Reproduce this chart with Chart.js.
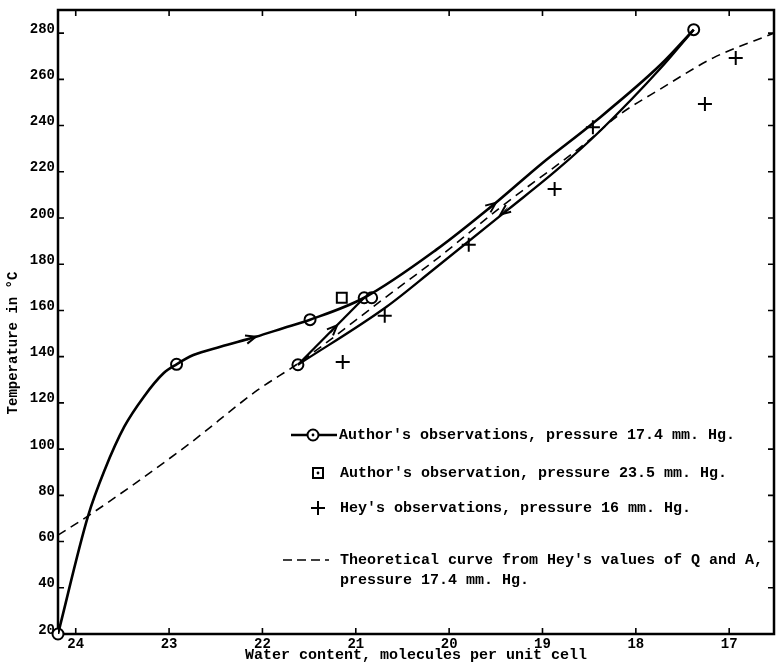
<!DOCTYPE html>
<html><head><meta charset="utf-8">
<script src="https://cdn.jsdelivr.net/npm/chart.js@4/dist/chart.umd.min.js"></script>
<style>html,body{margin:0;padding:0;background:#fff}</style>
</head><body>
<canvas id="c" width="783" height="664"></canvas>
<script>
// ---- axis ticks ----
const xTicks = [24, 23, 22, 21, 20, 19, 18, 17];
const yTicks = [20, 40, 60, 80, 100, 120, 140, 160, 180, 200, 220, 240, 260, 280];
const xMin = 16.52, xMax = 24.19, yMin = 20, yMax = 290;

// ---- Author's observations, pressure 17.4 mm (circles) ----
const authorX = [24.19, 22.92, 21.49, 20.91, 20.83, 17.38, 21.62];
const authorY = [20, 136.7, 156, 165.5, 165.5, 281.5, 136.5];

// heating path (curve drawn through author's points)
const heatX = [24.19, 23.87, 23.69, 23.48, 23.27, 23.06, 22.92, 22.74, 22.45, 22.07, 21.78, 21.49, 20.91, 20.14, 19.5, 19.01, 18.46, 17.73, 17.38];
const heatY = [20, 70.8, 91, 109.7, 122.7, 132.8, 136.7, 140.7, 144.3, 148.6, 152.3, 156, 165.5, 186.2, 206.6, 223.5, 241, 266.5, 281.5];
// cooling path (lower curve), listed from the low end upward
const coolX = [21.62, 20.67, 20.17, 19.37, 18.84, 18.37, 17.73, 17.38];
const coolY = [136.5, 161.6, 177.6, 203.6, 221, 238.2, 265, 281.5];
// re-heating path
const reheatX = [21.62, 20.91];
const reheatY = [136.5, 165.5];

// ---- Author's observation, pressure 23.5 mm (square) ----
const squareX = [21.15];
const squareY = [165.5];

// ---- Hey's observations, pressure 16 mm (+) ----
const heyX = [21.14, 20.69, 19.79, 18.87, 18.46, 17.26, 16.93];
const heyY = [137.7, 157.7, 188.4, 212.6, 239.3, 249.3, 269.2];

// ---- Theoretical curve (dashed) ----
const theoX = [24.19, 23.87, 22.81, 22.05, 21.62, 20.67, 20.11, 19.47, 18.55, 18.2, 17.73, 17.17, 16.52];
const theoY = [62.8, 71, 101.5, 125.6, 137, 166, 183, 204, 232, 244, 256, 269.3, 280];

// ---- arrows on the curves: tip and a point behind it (data units) ----
const arrowTipX = [22.07, 19.5, 19.45, 21.2];
const arrowTipY = [148.6, 206.6, 201.5, 153.6];
const arrowFromX = [22.45, 20.14, 19.1, 21.62];
const arrowFromY = [144.3, 186.2, 212.5, 136.5];

// ---- texts ----
const xTitle = "Water content, molecules per unit cell";
const yTitle = "Temperature in °C";
const legendTexts = [
  "Author's observations, pressure 17.4 mm. Hg.",
  "Author's observation, pressure 23.5 mm. Hg.",
  "Hey's observations, pressure 16 mm. Hg.",
  "Theoretical curve from Hey's values of Q and A,",
  "pressure 17.4 mm. Hg."
];

const pts = (xs, ys) => xs.map((x, i) => ({x: x, y: ys[i]}));
const MONO = '"Liberation Mono", "DejaVu Sans Mono", monospace';

const decor = {
  id: 'decor',
  beforeDatasetsDraw(chart) {
    const {ctx, chartArea: a, scales: {x, y}} = chart;
    ctx.save();
    ctx.strokeStyle = '#000';
    ctx.lineWidth = 1.6;
    ctx.beginPath();
    xTicks.forEach(v => {
      const px = x.getPixelForValue(v);
      ctx.moveTo(px, a.bottom); ctx.lineTo(px, a.bottom - 6);
      ctx.moveTo(px, a.top); ctx.lineTo(px, a.top + 6);
    });
    yTicks.forEach(v => {
      const py = y.getPixelForValue(v);
      ctx.moveTo(a.left, py); ctx.lineTo(a.left + 6, py);
      ctx.moveTo(a.right, py); ctx.lineTo(a.right - 6, py);
    });
    ctx.stroke();
    ctx.lineWidth = 2.5;
    ctx.strokeRect(a.left, a.top, a.right - a.left, a.bottom - a.top);
    ctx.restore();
  },
  afterDatasetsDraw(chart) {
    const {ctx, scales: {x, y}} = chart;
    ctx.save();
    ctx.strokeStyle = '#000';
    ctx.fillStyle = '#000';
    // arrows
    ctx.lineWidth = 2;
    arrowTipX.forEach((tx, i) => {
      const px = x.getPixelForValue(tx), py = y.getPixelForValue(arrowTipY[i]);
      const fx = x.getPixelForValue(arrowFromX[i]), fy = y.getPixelForValue(arrowFromY[i]);
      const ang = Math.atan2(py - fy, px - fx);
      const L = 11, s = 0.4;
      ctx.beginPath();
      ctx.moveTo(px - L * Math.cos(ang - s), py - L * Math.sin(ang - s));
      ctx.lineTo(px, py);
      ctx.lineTo(px - L * Math.cos(ang + s), py - L * Math.sin(ang + s));
      ctx.stroke();
      ctx.beginPath();
      ctx.moveTo(px, py);
      ctx.lineTo(px - L * Math.cos(ang - 0.15), py - L * Math.sin(ang - 0.15));
      ctx.lineTo(px - 0.6 * L * Math.cos(ang), py - 0.6 * L * Math.sin(ang));
      ctx.closePath();
      ctx.fill();
    });
    // legend
    ctx.font = 'bold 15px ' + MONO;
    ctx.textBaseline = 'middle';
    ctx.textAlign = 'left';
    // row 1: line + circle
    ctx.lineWidth = 2.5;
    ctx.beginPath(); ctx.moveTo(291, 435); ctx.lineTo(337, 435); ctx.stroke();
    ctx.fillStyle = '#fff';
    ctx.beginPath(); ctx.arc(313, 435, 5.5, 0, Math.PI * 2); ctx.fill();
    ctx.lineWidth = 2; ctx.stroke();
    ctx.fillStyle = '#000';
    ctx.beginPath(); ctx.arc(313, 435, 1.4, 0, Math.PI * 2); ctx.fill();
    ctx.fillText(legendTexts[0], 339, 435);
    // row 2: square
    ctx.lineWidth = 2;
    ctx.strokeRect(313, 468, 10, 10);
    ctx.beginPath(); ctx.arc(318, 473, 1.4, 0, Math.PI * 2); ctx.fill();
    ctx.fillText(legendTexts[1], 340, 473);
    // row 3: plus
    ctx.beginPath();
    ctx.moveTo(311, 508); ctx.lineTo(325, 508);
    ctx.moveTo(318, 501); ctx.lineTo(318, 515);
    ctx.stroke();
    ctx.fillText(legendTexts[2], 340, 508);
    // row 4: dashed
    ctx.lineWidth = 1.6;
    ctx.setLineDash([9, 5]);
    ctx.beginPath(); ctx.moveTo(283, 560); ctx.lineTo(329, 560); ctx.stroke();
    ctx.setLineDash([]);
    ctx.fillText(legendTexts[3], 340, 560);
    ctx.fillText(legendTexts[4], 340, 580);
    ctx.restore();
  }
};

const lineDs = (xs, ys, w) => ({
  data: pts(xs, ys), showLine: true, pointRadius: 0, pointHoverRadius: 0,
  borderColor: '#000', borderWidth: w, cubicInterpolationMode: 'monotone', fill: false
});

new Chart(document.getElementById('c'), {
  type: 'scatter',
  data: {
    datasets: [
      Object.assign(lineDs(theoX, theoY, 1.6), {borderDash: [9, 6], label: 'Theoretical'}),
      Object.assign(lineDs(heatX, heatY, 2.6), {label: 'heating'}),
      Object.assign(lineDs(coolX, coolY, 2.3), {label: 'cooling'}),
      Object.assign(lineDs(reheatX, reheatY, 2.3), {cubicInterpolationMode: 'default', tension: 0, label: 'reheating'}),
      {label: "Author's observations", data: pts(authorX, authorY), pointStyle: 'circle', pointRadius: 5.5,
       borderWidth: 2, borderColor: '#000', backgroundColor: '#fff', clip: false},
      {label: 'dots', data: pts(authorX, authorY), pointStyle: 'circle', pointRadius: 1.4,
       borderWidth: 0, backgroundColor: '#000', clip: false},
      {label: "Author's observation 23.5", data: pts(squareX, squareY), pointStyle: 'rect', pointRadius: 7,
       borderWidth: 2, borderColor: '#000', backgroundColor: '#fff'},
      {label: 'sqdot', data: pts(squareX, squareY), pointStyle: 'circle', pointRadius: 1.4,
       borderWidth: 0, backgroundColor: '#000'},
      {label: "Hey's observations", data: pts(heyX, heyY), pointStyle: 'cross', pointRadius: 7,
       borderWidth: 2, borderColor: '#000'}
    ]
  },
  options: {
    responsive: false, animation: false, devicePixelRatio: 1,
    layout: {padding: {left: 0, right: 2, top: 10, bottom: 0}},
    plugins: {legend: {display: false}, tooltip: {enabled: false}},
    scales: {
      x: {
        type: 'linear', reverse: true, min: xMin, max: xMax, position: 'bottom',
        grid: {display: false, drawTicks: false}, border: {display: false},
        afterBuildTicks: s => { s.ticks = xTicks.map(v => ({value: v})); },
        afterFit: s => { s.height = 30; },
        ticks: {color: '#000', padding: 3, autoSkip: false, maxRotation: 0,
                font: {family: MONO, size: 14, weight: 'bold', lineHeight: 1}},
        title: {display: true, text: xTitle, color: '#000', padding: 0,
                font: {family: MONO, size: 15, weight: 'bold', lineHeight: 1.2}}
      },
      y: {
        type: 'linear', min: yMin, max: yMax,
        grid: {display: false, drawTicks: false}, border: {display: false},
        afterBuildTicks: s => { s.ticks = yTicks.map(v => ({value: v})); },
        afterFit: s => { s.width = 58; },
        ticks: {color: '#000', padding: 3, labelOffset: -4,
                font: {family: MONO, size: 14, weight: 'bold', lineHeight: 1}},
        title: {display: true, text: yTitle + '     ', color: '#000', padding: {top: 5, bottom: 5},
                font: {family: MONO, size: 14, weight: 'bold', lineHeight: 1.2}}
      }
    }
  },
  plugins: [decor]
});
</script>
</body></html>
